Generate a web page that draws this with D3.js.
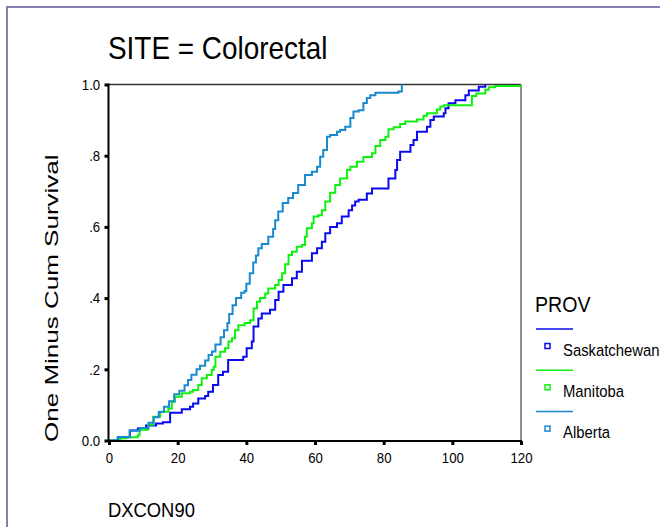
<!DOCTYPE html>
<html>
<head>
<meta charset="utf-8">
<script src="https://cdn.jsdelivr.net/npm/d3@7/dist/d3.min.js"></script>
<style>
  body { margin: 0; background: #fff; }
  svg text { font-family: "Liberation Sans", Arial, sans-serif; fill: #000; }
</style>
</head>
<body>
<svg id="chart" width="660" height="527"></svg>
<script>
// step points (time, cumulative proportion)
var sasTime = [0,2.7,6.1,8.4,10.8,13.7,15.7,17.8,21.2,23.6,24.5,26,28,28.9,30.3,31.8,33.2,34.7,39.1,40.1,41.6,42.1,43.5,44.5,46.9,48.4,49.4,50.8,53.3,54.7,56.2,59.1,60.6,62,63,64.4,66.4,67.8,69.8,70.8,71.7,72.7,75.1,76.6,81.4,83.4,83.9,84.8,87.8,88.7,89.7,92.6,93.6,94.6,97.5,98,98.9,100.9,103.8,104.8,107.7,109.6];
var sasValue = [0,0.009,0.028,0.034,0.042,0.048,0.051,0.078,0.088,0.095,0.104,0.118,0.125,0.137,0.156,0.184,0.193,0.226,0.235,0.259,0.278,0.32,0.343,0.357,0.367,0.395,0.418,0.437,0.456,0.474,0.505,0.526,0.54,0.558,0.582,0.60,0.61,0.629,0.647,0.66,0.671,0.676,0.694,0.708,0.736,0.76,0.788,0.811,0.83,0.844,0.867,0.881,0.9,0.91,0.919,0.933,0.947,0.956,0.97,0.983,0.994,1.0];

var manTime = [0,3.3,5.1,8.4,8.9,11.4,12.9,14.9,17.3,18.3,19.2,21.2,23.6,24.5,26,27,28.5,29.9,30.5,31,32.4,33.8,34.8,35.8,36.7,37.7,39.5,41.1,42.1,43.1,44,45.5,46.4,48.4,49.4,50.4,51.3,52.3,53.3,54.7,56.2,57.1,57.6,59.1,59.6,61,62,63,64.4,65.9,67.3,69.3,70.3,72.2,74.1,76.6,77.6,79,80.5,81.4,82.9,84.8,86.3,89.7,91.6,92.6,95.5,96.5,97.5,105.7,107,109.6,110.6,112.5,119.8];
var manValue = [0,0.006,0.009,0.015,0.03,0.044,0.067,0.081,0.09,0.109,0.123,0.133,0.137,0.142,0.156,0.175,0.184,0.198,0.207,0.235,0.249,0.259,0.278,0.287,0.31,0.324,0.33,0.338,0.371,0.39,0.40,0.413,0.427,0.437,0.451,0.47,0.495,0.521,0.53,0.544,0.549,0.572,0.596,0.61,0.629,0.633,0.647,0.671,0.696,0.718,0.736,0.76,0.769,0.783,0.796,0.807,0.827,0.844,0.853,0.874,0.88,0.889,0.896,0.902,0.912,0.919,0.93,0.938,0.942,0.968,0.975,0.985,0.992,0.996,1.0];

var albTime = [0,2.5,6,9,11.5,13,14.5,16,17.5,19,20.5,22,23,24,25.5,26.5,28,29,30,31,32.5,33.5,34.5,35,36,37,38.5,39.5,40,41,42,42.8,43.5,44.5,46.4,47.8,48.4,49.3,50.6,52.2,53.6,55.1,57.1,59.1,60.6,61.5,62.4,63.5,64.4,66.4,67.3,68.8,70.3,71.2,72.7,74.1,75.1,76.1,77.6,84.3,85.3];
var albValue = [0,0.01,0.028,0.035,0.05,0.065,0.08,0.095,0.11,0.13,0.14,0.155,0.17,0.185,0.2,0.21,0.225,0.24,0.25,0.27,0.29,0.31,0.33,0.355,0.38,0.40,0.415,0.42,0.44,0.47,0.50,0.52,0.54,0.552,0.572,0.594,0.619,0.643,0.667,0.681,0.695,0.718,0.746,0.755,0.769,0.797,0.816,0.853,0.858,0.867,0.872,0.881,0.906,0.924,0.928,0.948,0.962,0.970,0.977,0.98,1.0];

var provNames = ["Saskatchewan", "Manitoba", "Alberta"];
var provColors = ["#0a0af0", "#10f010", "#1a8ad0"];
var xTicks = [0, 20, 40, 60, 80, 100, 120];
var yTicks = [0, 0.2, 0.4, 0.6, 0.8, 1.0];
var yTickLabels = ["0.0", ".2", ".4", ".6", ".8", "1.0"];

var series = [
    d3.zip(sasTime, sasValue),
    d3.zip(manTime, manValue),
    d3.zip(albTime, albValue)
];

var svg = d3.select("#chart");

// outer frame (runs off the right and bottom edges)
svg.append("path")
    .attr("d", "M7,540 L7,7 L670,7")
    .attr("fill", "none")
    .attr("stroke", "#8a7db4")
    .attr("stroke-width", 2);

var x = d3.scaleLinear().domain([0, 120]).range([109, 521]);
var y = d3.scaleLinear().domain([0, 1]).range([440.5, 84.5]);

// title
svg.append("text")
    .attr("transform", "translate(108,59) scale(0.9,1)")
    .style("font-size", "31px")
    .text("SITE = Colorectal");

// plot box: thin top/right, thick left/bottom
svg.append("line")
    .attr("x1", x(0)).attr("x2", x(120)).attr("y1", y(1)).attr("y2", y(1))
    .attr("stroke", "#333").attr("stroke-width", 1.5);
svg.append("line")
    .attr("x1", x(120)).attr("x2", x(120)).attr("y1", y(1)).attr("y2", y(0))
    .attr("stroke", "#222").attr("stroke-width", 1);

// curves
var line = d3.line()
    .x(function(d) { return x(d[0]); })
    .y(function(d) { return y(d[1]); })
    .curve(d3.curveStepAfter);

svg.append("g")
    .selectAll("path")
    .data(series)
    .enter()
    .append("path")
    .attr("d", line)
    .attr("fill", "none")
    .attr("stroke", function(d, i) { return provColors[i]; })
    .attr("stroke-width", 2);

// axes
var yAxis = svg.append("g")
    .attr("transform", "translate(108.5,0)")
    .call(d3.axisLeft(y).tickValues(yTicks)
        .tickFormat(function(d, i) { return yTickLabels[i]; })
        .tickSize(4).tickPadding(4));
var xAxis = svg.append("g")
    .attr("transform", "translate(0,441)")
    .call(d3.axisBottom(x).tickValues(xTicks).tickSize(4).tickPadding(7));

[yAxis, xAxis].forEach(function(ax) {
    ax.select(".domain").remove();
    ax.selectAll(".tick line").attr("stroke", "#000").attr("stroke-width", 3);
    ax.selectAll(".tick text").style("font-size", "15px").attr("fill", "#000");
});
yAxis.selectAll(".tick text").attr("transform", "scale(0.88,1)").attr("x", -9.5);
xAxis.selectAll(".tick text").attr("transform", "scale(0.88,1)");

svg.append("line")
    .attr("x1", 108.5).attr("x2", 108.5).attr("y1", y(1) - 1).attr("y2", 442)
    .attr("stroke", "#000").attr("stroke-width", 2);
svg.append("line")
    .attr("x1", 107.5).attr("x2", x(120) + 1).attr("y1", 441).attr("y2", 441)
    .attr("stroke", "#000").attr("stroke-width", 2);

// axis titles
svg.append("text")
    .attr("transform", "translate(58,442) rotate(-90) scale(1.37,1)")
    .style("font-size", "19px")
    .text("One Minus Cum Survival");
svg.append("text")
    .attr("transform", "translate(108,517) scale(0.92,1)")
    .style("font-size", "20px")
    .text("DXCON90");

// legend
var legend = svg.append("g");
legend.append("text")
    .attr("transform", "translate(535,311.5) scale(0.89,1)")
    .style("font-size", "22px")
    .text("PROV");

var item = legend.selectAll("g.item")
    .data(provNames)
    .enter()
    .append("g")
    .attr("class", "item")
    .attr("transform", function(d, i) { return "translate(0," + (i * 41.3) + ")"; });
item.append("line")
    .attr("x1", 536).attr("x2", 573).attr("y1", 329).attr("y2", 329)
    .attr("stroke", function(d, i) { return provColors[i]; })
    .attr("stroke-width", 1.5);
item.append("rect")
    .attr("x", 545).attr("y", 343.5).attr("width", 5).attr("height", 5)
    .attr("fill", "#fff")
    .attr("stroke", function(d, i) { return provColors[i]; })
    .attr("stroke-width", 1.5);
item.append("text")
    .attr("transform", "translate(563,355.5) scale(0.9,1)")
    .style("font-size", "16.5px")
    .text(function(d) { return d; });
</script>
</body>
</html>
